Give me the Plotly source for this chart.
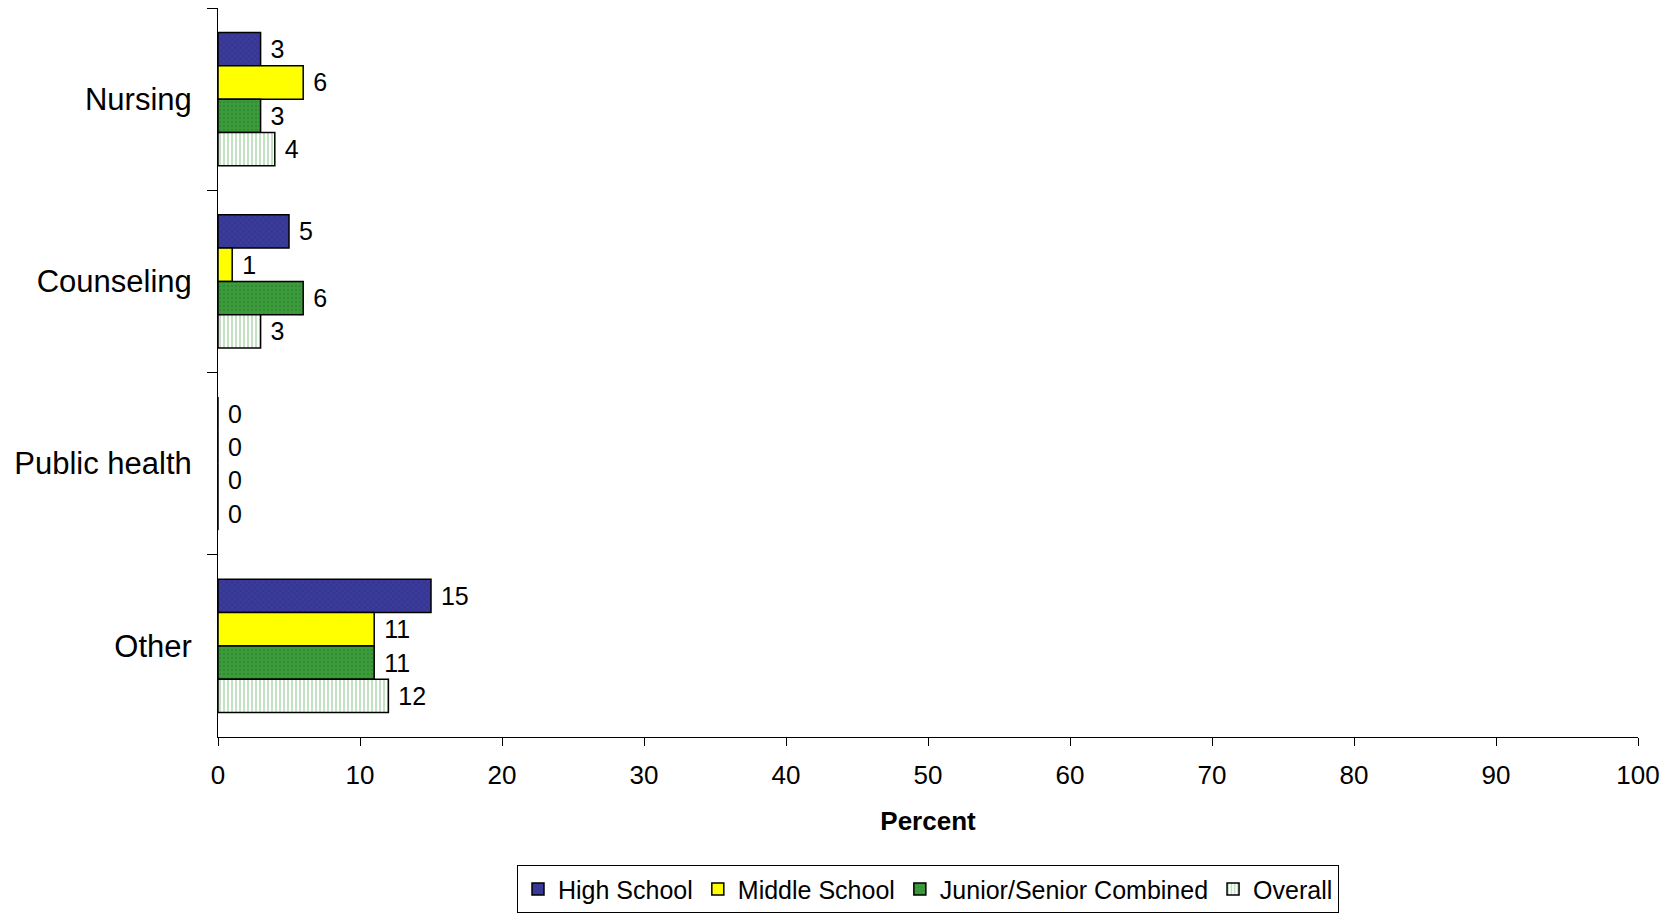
import plotly.graph_objects as go

categories = ["Nursing", "Counseling", "Public health", "Other"]
series_names = ["High School", "Middle School", "Junior/Senior Combined", "Overall"]
high_school = [3, 5, 0, 15]
middle_school = [6, 1, 0, 11]
junior_senior = [3, 6, 0, 11]
overall = [4, 3, 0, 12]
x_ticks = [0, 10, 20, 30, 40, 50, 60, 70, 80, 90, 100]

styles = [
    dict(color="#3b3b9c", pattern=dict(shape="x", fgcolor="#22226e", size=4, solidity=0.25)),
    dict(color="#ffff00"),
    dict(color="#3c9c3c", pattern=dict(shape=".", fgcolor="#2a7a2a", size=4, solidity=0.3)),
    dict(color="#ffffff", pattern=dict(shape="|", fgcolor="#77c077", bgcolor="#ffffff", size=4, solidity=0.45)),
]

fig = go.Figure()
for name, vals, st in zip(series_names, [high_school, middle_school, junior_senior, overall], styles):
    marker = dict(color=st["color"], line=dict(color="black", width=1.5))
    if "pattern" in st:
        marker["pattern"] = st["pattern"]
    fig.add_trace(go.Bar(
        y=categories, x=vals, name=name, orientation="h",
        marker=marker,
        text=[" " + str(v) for v in vals], textposition="outside",
        textfont=dict(size=25, color="black"),
        cliponaxis=False,
    ))

fig.update_layout(
    width=1675, height=914,
    barmode="group", bargap=0.27, bargroupgap=0,
    plot_bgcolor="white", paper_bgcolor="white",
    font=dict(family="Arial, Liberation Sans, sans-serif", color="black"),
    margin=dict(l=210, r=45, t=0, b=185, autoexpand=False),
    showlegend=True,
    legend=dict(
        orientation="h", x=0.5, xanchor="center", y=-0.176, yanchor="top",
        bordercolor="black", borderwidth=1, font=dict(size=25),
        traceorder="normal", itemwidth=30,
    ),
    xaxis=dict(
        range=[0, 100], tickvals=x_ticks, showgrid=False, zeroline=False,
        showline=True, linecolor="black", linewidth=1,
        ticks="outside", ticklen=8, tickcolor="black",
        tickfont=dict(size=26), ticklabelstandoff=7,
        title=dict(text="<b>Percent</b>", font=dict(size=26), standoff=22),
    ),
    yaxis=dict(
        autorange="reversed", showgrid=False, zeroline=False,
        showline=True, linecolor="black", linewidth=1,
        ticks="outside", ticklen=10, tickcolor="black", tickson="boundaries",
        tickfont=dict(size=31), ticklabelstandoff=19,
    ),
)

fig.write_html("out.html")
